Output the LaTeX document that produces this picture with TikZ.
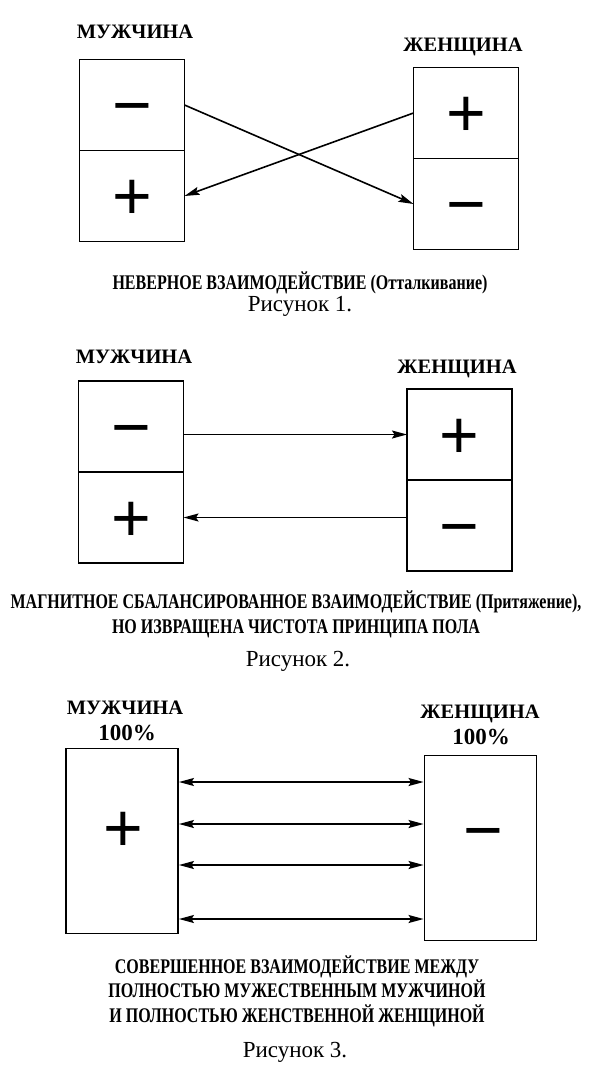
\documentclass[tikz,border=0pt]{standalone}
\usepackage{fontspec}
\setmainfont{Liberation Serif}
\newfontfamily\captfont[FakeStretch=0.77]{Liberation Serif Bold}
\newfontfamily\signfont{Liberation Sans}
\usetikzlibrary{arrows.meta,calc,positioning}

\begin{document}
\begin{tikzpicture}[x=1pt, y=-1pt, line width=1.6pt, >={Stealth[length=15pt,width=8pt,inset=2.5pt]}]
    \tikzstyle{sign}=[font=\signfont\fontsize{68}{68}\selectfont, inner sep=0pt, text height=47.6pt, text depth=0pt]
    \tikzstyle{cell}=[sign, draw, line width=1.9pt, minimum width=105pt, minimum height=91pt, outer sep=0pt]
    \tikzstyle{tall}=[draw, line width=1.9pt, minimum width=112pt, minimum height=185pt, inner sep=0pt]
    \tikzstyle{gender}=[font=\bfseries\fontsize{20.5}{25}\selectfont, anchor=base, inner sep=0pt]
    \tikzstyle{share}=[gender, font=\bfseries\fontsize{23}{25}\selectfont]
    \tikzstyle{capt}=[font=\captfont\fontsize{20.8}{24.5}\selectfont, anchor=base, align=center, inner sep=0pt]
    \tikzstyle{figlabel}=[font=\fontsize{23}{25}\selectfont, anchor=base, inner sep=0pt]
    \useasboundingbox (0,0) rectangle (599,1089);

    \node[cell] (manA1) at (132,105) {−};
    \node[cell, below=0pt of manA1] (manB1) {+};
    \node[cell] (womA1) at (466,113) {+};
    \node[cell, below=0pt of womA1] (womB1) {−};
    \node[gender] (manL1) at (135,39) {МУЖЧИНА};
    \node[gender] (womL1) at (463,52) {ЖЕНЩИНА};
    \draw[->] (manA1.east) -- (womB1.west);
    \draw[->] (womA1.west) -- (manB1.east);
    \node[capt] (capt1) at (300,289) {НЕВЕРНОЕ ВЗАИМОДЕЙСТВИЕ (Отталкивание)};
    \node[figlabel] (fig1) at (300,311) {Рисунок 1.};

    \node[cell] (manA2) at (131,426.5) {−};
    \node[cell, below=0pt of manA2] (manB2) {+};
    \node[cell] (womA2) at (459.5,434.5) {+};
    \node[cell, below=0pt of womA2] (womB2) {−};
    \node[gender] (manL2) at (134,363) {МУЖЧИНА};
    \node[gender] (womL2) at (457,373) {ЖЕНЩИНА};
    \draw[->] (manA2.east |- womA2.west) -- (womA2.west);
    \draw[->] (womB2.west |- manB2.east) -- (manB2.east);
    \node[capt] (capt2) at (296,633) {МАГНИТНОЕ СБАЛАНСИРОВАННОЕ ВЗАИМОДЕЙСТВИЕ (Притяжение),\\НО ИЗВРАЩЕНА ЧИСТОТА ПРИНЦИПА ПОЛА};
    \node[figlabel] (fig2) at (298,666) {Рисунок 2.};

    \node[tall] (man3) at (122,841) {};
    \node[tall] (wom3) at (480.5,848) {};
    \node[sign] (manS3) at (123,828) {+};
    \node[sign] (womS3) at (483,830) {−};
    \node[gender] (manL3) at (125,714) {МУЖЧИНА};
    \node[gender] (womL3) at (480,718) {ЖЕНЩИНА};
    \node[share] (manP3) at (127,740) {100\%};
    \node[share] (womP3) at (481,744) {100\%};
    \foreach \y in {782,824,865,919}
        \draw[<->] (man3.east |- 0,\y) -- (wom3.west |- 0,\y);
    \node[capt] (capt3) at (297,1022) {СОВЕРШЕННОЕ ВЗАИМОДЕЙСТВИЕ МЕЖДУ\\ПОЛНОСТЬЮ МУЖЕСТВЕННЫМ МУЖЧИНОЙ\\И ПОЛНОСТЬЮ ЖЕНСТВЕННОЙ ЖЕНЩИНОЙ};
    \node[figlabel] (fig3) at (295,1057) {Рисунок 3.};
\end{tikzpicture}
\end{document}
